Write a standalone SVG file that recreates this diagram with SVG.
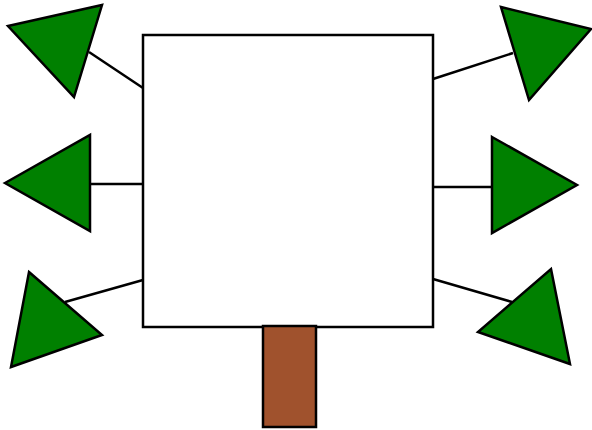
<svg xmlns="http://www.w3.org/2000/svg" width="592" height="430" viewBox="0 0 592 430">
<style>
.c{stroke:#000;stroke-width:2.5;fill:none}
.leaf{fill:#008000;stroke:#000;stroke-width:2.5;stroke-linejoin:miter}
.box{fill:#fff;stroke:#000;stroke-width:2.5}
.trunk{fill:#A0522D;stroke:#000;stroke-width:2.5}
</style>
<rect width="592" height="430" fill="#fff"/>
<g id="connectors">
<line class="c" x1="143" y1="88" x2="89" y2="52"/>
<line class="c" x1="433" y1="79" x2="513" y2="53"/>
<line class="c" x1="143" y1="184" x2="90" y2="184"/>
<line class="c" x1="433" y1="187" x2="492" y2="187"/>
<line class="c" x1="143" y1="280" x2="65" y2="302"/>
<line class="c" x1="433" y1="279" x2="512" y2="302"/>
</g>
<g id="crown"><rect class="box" x="143" y="35" width="290" height="292"/></g>
<g id="trunk"><rect class="trunk" x="263" y="326" width="53" height="101"/></g>
<g id="leaf-tl"><polygon class="leaf" points="8,26 102,5 74,97"/></g>
<g id="leaf-tr"><polygon class="leaf" points="501,7 591,29 529,100"/></g>
<g id="leaf-ml"><polygon class="leaf" points="5,183 90,135 90,231"/></g>
<g id="leaf-mr"><polygon class="leaf" points="492,137 577,185 492,233"/></g>
<g id="leaf-bl"><polygon class="leaf" points="29,272 102,335 11,367"/></g>
<g id="leaf-br"><polygon class="leaf" points="551,269 570,364 478,332"/></g>
</svg>
